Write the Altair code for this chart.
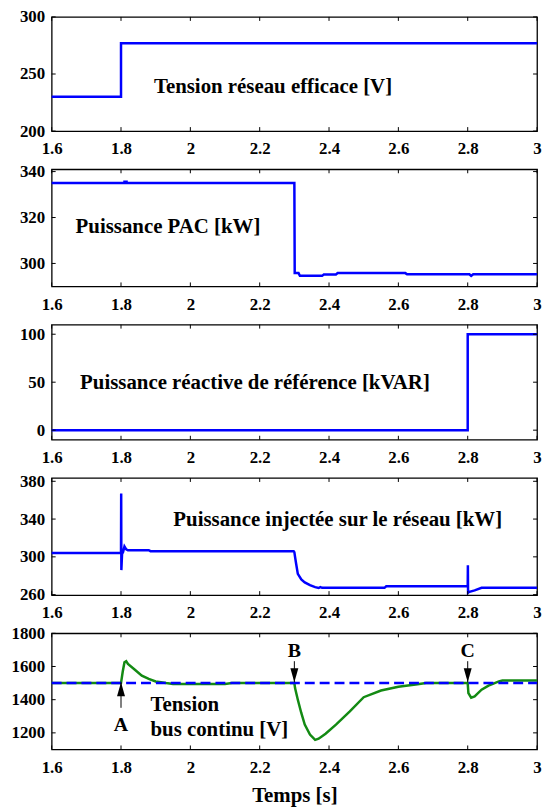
import altair as alt
import pandas as pd

# ---------------- data ----------------
x_ticks = [1.6, 1.8, 2.0, 2.2, 2.4, 2.6, 2.8, 3.0]

# Panel 1: Tension réseau efficace [V]
t1 = [1.6, 1.8, 1.8, 3.0]
v1 = [230, 230, 277, 277]

# Panel 2: Puissance PAC [kW]
t2 = [1.6, 1.81, 1.81, 1.816, 1.816, 2.3, 2.301, 2.312, 2.316, 2.38, 2.385, 2.42, 2.425,
      2.62, 2.625, 2.805, 2.81, 2.816, 3.0]
v2 = [335.0, 335.0, 335.6, 335.6, 335.0, 335.0, 295.8, 295.8, 294.6, 294.6, 295.2, 295.2, 295.8,
      295.8, 295.3, 295.3, 294.6, 295.3, 295.3]

# Panel 3: Puissance réactive de référence [kVAR]
t3 = [1.6, 2.8, 2.8, 3.0]
v3 = [0, 0, 100, 100]

# Panel 4: Puissance injectée sur le réseau [kW]
t4 = [1.6, 1.8, 1.8005, 1.801, 1.803, 1.806, 1.81, 1.815, 1.82, 1.88, 1.885, 2.298,
      2.3, 2.302, 2.305, 2.31, 2.32, 2.33, 2.345, 2.36, 2.37, 2.375, 2.38, 2.56, 2.565,
      2.8, 2.8005, 2.801, 2.805, 2.82, 2.84, 3.0]
v4 = [304, 304, 367, 286, 303, 305, 311, 308, 307, 307, 306, 306,
      305, 300, 293, 282, 276, 273, 270, 268, 267, 268, 267.2, 267.2, 268.8,
      268.8, 291, 262, 263, 264.5, 267.2, 267.2]

# Panel 5: Tension bus continu [V]
t5 = [1.6, 1.8, 1.805, 1.81, 1.815, 1.82, 1.84, 1.86, 1.88, 1.9, 1.93, 1.95, 2.1, 2.12,
      2.3, 2.302, 2.31, 2.32, 2.33, 2.345, 2.36, 2.37, 2.39, 2.42, 2.46, 2.5, 2.55, 2.6,
      2.65, 2.68, 2.8, 2.802, 2.81, 2.82, 2.84, 2.86, 2.89, 2.9, 3.0]
v5 = [1500, 1500, 1570, 1625, 1632, 1615, 1580, 1545, 1525, 1510, 1500, 1495, 1495, 1500,
      1500, 1470, 1400, 1320, 1250, 1190, 1158, 1165, 1195, 1250, 1330, 1415, 1455, 1478,
      1492, 1500, 1500, 1440, 1412, 1420, 1460, 1485, 1510, 1515, 1515]
ref_t = [1.6, 3.0]
ref_v = [1500, 1500]

# event markers
ev_labels = ["A", "B", "C"]
ev_t = [1.8, 2.3, 2.8]

# ---------------- style ----------------
FONT = "Liberation Serif"
W = 489
BLUE = "#0000ff"
GREEN = "#138a13"
TXT = 21


def xenc(title=None):
    kw = dict(values=x_ticks, format="~g", labelFlush=False, labelOverlap=False,
              ticks=False, domain=False, grid=False, labelPadding=10,
              labelFont=FONT, labelFontSize=17, labelFontWeight="bold", labelColor="black")
    if title:
        kw.update(title=title, titleFontSize=21, titleFontWeight="bold",
                  titleFont=FONT, titlePadding=9, titleColor="black")
    else:
        kw.update(title=None)
    return alt.X("t:Q", scale=alt.Scale(domain=[1.6, 3.0], nice=False, zero=False),
                 axis=alt.Axis(**kw))


def yenc(dom, vals):
    return alt.Y("v:Q", scale=alt.Scale(domain=dom, nice=False, zero=False),
                 axis=alt.Axis(values=vals, format="d", title=None, ticks=False, domain=False,
                               grid=False, labelFlush=False, labelOverlap=False, labelPadding=7,
                               minExtent=43, maxExtent=43,
                               labelFont=FONT, labelFontSize=17, labelFontWeight="bold",
                               labelColor="black"))


def panel(t, v, dom, yvals, h, texts, extra=None, xtitle=None, color=BLUE):
    X = xenc(xtitle)
    Y = yenc(dom, yvals)
    df = pd.DataFrame({"t": t, "v": v, "i": list(range(len(t)))})
    xt = pd.DataFrame({"t": x_ticks})
    yt = pd.DataFrame({"v": yvals})
    layers = []
    if extra is not None:
        layers += extra(X, Y, h)
    else:
        layers.append(alt.Chart(df).mark_line(color=color, strokeWidth=2.5).encode(
            x=X, y=Y, order=alt.Order("i:Q")))
    # inward ticks (box style)
    layers.append(alt.Chart(xt).mark_rule(color="black", strokeWidth=1).encode(
        x=X, y=alt.value(0), y2=alt.value(4)))
    layers.append(alt.Chart(xt).mark_rule(color="black", strokeWidth=1).encode(
        x=X, y=alt.value(h - 4), y2=alt.value(h)))
    layers.append(alt.Chart(yt).mark_rule(color="black", strokeWidth=1).encode(
        y=Y, x=alt.value(0), x2=alt.value(4)))
    layers.append(alt.Chart(yt).mark_rule(color="black", strokeWidth=1).encode(
        y=Y, x=alt.value(W - 4), x2=alt.value(W)))
    tdf = pd.DataFrame(texts, columns=["t", "v", "label"])
    layers.append(alt.Chart(tdf).mark_text(font=FONT, fontSize=TXT, fontWeight="bold",
                                           align="left", baseline="middle", color="black").encode(
        x=X, y=Y, text="label:N"))
    return alt.layer(*layers).properties(width=W, height=h)


def bus_layers(X, Y, h):
    df = pd.DataFrame({"t": t5, "v": v5, "i": list(range(len(t5)))})
    ref = pd.DataFrame({"t": ref_t, "v": ref_v})
    green = alt.Chart(df).mark_line(color=GREEN, strokeWidth=2.5).encode(
        x=X, y=Y, order=alt.Order("i:Q"))
    dashed = alt.Chart(ref).mark_line(color=BLUE, strokeWidth=2.5, strokeDash=[10, 5]).encode(
        x=X, y=Y)
    # arrows
    shafts = pd.DataFrame({"t": ev_t, "v": [1351, 1632, 1632], "v2": [1505, 1505, 1505]})
    shaft = alt.Chart(shafts).mark_rule(color="black", strokeWidth=1).encode(
        x=X, y=Y, y2="v2:Q")
    up = pd.DataFrame({"t": [ev_t[0]], "v": [1505]})
    down = pd.DataFrame({"t": ev_t[1:], "v": [1505, 1505]})
    head_up = alt.Chart(up).mark_point(shape="M0,0L-1,3.5L1,3.5Z", filled=True, size=64,
                                       color="black", opacity=1, strokeWidth=0).encode(x=X, y=Y)
    head_down = alt.Chart(down).mark_point(shape="M0,0L-1,-3.5L1,-3.5Z", filled=True, size=64,
                                           color="black", opacity=1, strokeWidth=0).encode(x=X, y=Y)
    letters = pd.DataFrame({"t": ev_t, "v": [1249, 1692, 1692], "label": ev_labels})
    lt = alt.Chart(letters).mark_text(font=FONT, fontSize=20, fontWeight="bold",
                                      align="center", baseline="middle", color="black").encode(
        x=X, y=Y, text="label:N")
    return [green, dashed, shaft, head_up, head_down, lt]


p1 = panel(t1, v1, [200, 300], [200, 250, 300], 115,
           [(1.895, 239, "Tension réseau efficace [V]")])
p2 = panel(t2, v2, [290, 341], [300, 320, 340], 118,
           [(1.669, 315.7, "Puissance PAC [kW]")])
p3 = panel(t3, v3, [-10, 110], [0, 50, 100], 116,
           [(1.682, 49, "Puissance réactive de référence [kVAR]")])
p4 = panel(t4, v4, [259.5, 383.5], [260, 300, 340, 380], 118,
           [(1.951, 338.9, "Puissance injectée sur le réseau [kW]")])
p5 = panel(t5, v5, [1100, 1800], [1200, 1400, 1600, 1800], 117,
           [(1.885, 1369, "Tension"), (1.885, 1214, "bus continu [V]")],
           extra=bus_layers, xtitle="Temps [s]")

chart = alt.vconcat(p1, p2, p3, p4, p5, spacing=38.5, bounds="flush").properties(
    padding={"left": 0, "top": -4, "right": 0, "bottom": 0},
    background="white"
).configure_view(
    stroke="black", strokeWidth=1.3
)

chart.save("out.html", embed_options={"renderer": "svg", "actions": False})
